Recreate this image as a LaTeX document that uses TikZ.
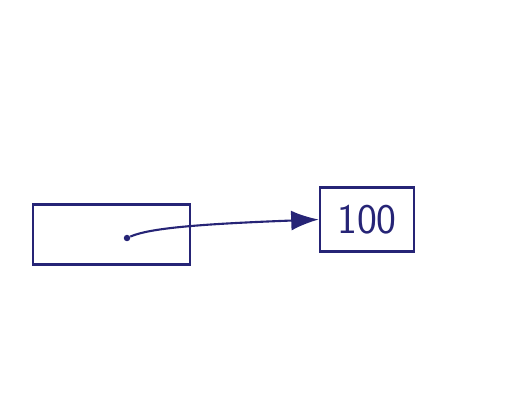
\documentclass[tikz,border=0pt]{standalone}
\usepackage{xcolor}
\usepackage{tikz}
\usetikzlibrary{arrows.meta, positioning}
\definecolor{ink}{RGB}{38,36,118}

\begin{document}
\begin{tikzpicture}[
			x=0.02cm, y=-0.02cm,
			cell/.style={rectangle, draw=ink, line width=1.5pt, inner sep=0pt},
			arr/.style={-{Latex[length=5.5mm, width=4mm]}, draw=ink, line width=1.2pt}
			]
			\useasboundingbox (0,0) rectangle (526,413);
			% pointer cell and the value it points to
			\node[cell, minimum width=157*0.02cm, minimum height=60*0.02cm] (ptr) at (111.5,234.5) {};
			\node[cell, minimum width=94*0.02cm, minimum height=64*0.02cm, text=ink,
				font=\sffamily\fontsize{24}{24}\selectfont] (val) at (367,219.5) {100};
			\node[circle, fill=ink, inner sep=1.3pt] (dot) at (127,238) {};
			
			\draw[arr] (dot) .. controls (150,228) and (200,224) .. (val.west);
		\end{tikzpicture}
\end{document}
